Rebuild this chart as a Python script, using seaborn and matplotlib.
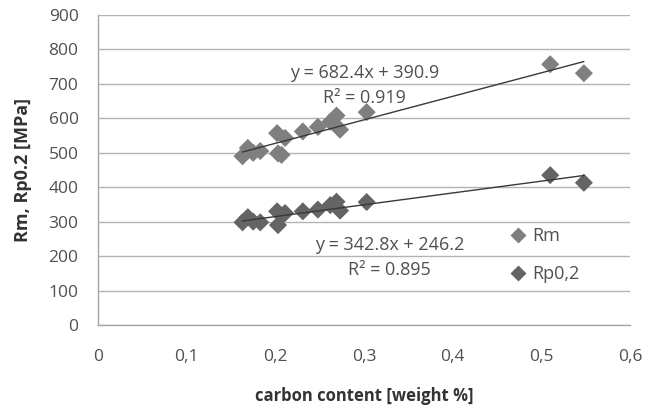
import numpy as np
import pandas as pd
import matplotlib
matplotlib.use("Agg")
import matplotlib.pyplot as plt
from matplotlib.ticker import FuncFormatter
import seaborn as sns

carbon = [0.163, 0.169, 0.175, 0.183, 0.202, 0.211, 0.203, 0.207,
          0.231, 0.248, 0.262, 0.269, 0.273, 0.303, 0.510, 0.548]
rm = [490, 514, 500, 505, 557, 543, 498, 494,
      562, 575, 590, 608, 567, 618, 757, 731]
rp = [298, 313, 300, 298, 330, 325, 290, 318,
      330, 335, 348, 358, 332, 357, 435, 413]
rm_fit = (682.4, 390.9, 0.919)
rp_fit = (342.8, 246.2, 0.895)
x_ticks = [0, 0.1, 0.2, 0.3, 0.4, 0.5, 0.6]
y_ticks = [0, 100, 200, 300, 400, 500, 600, 700, 800, 900]

sns.set_theme(style="white")
plt.rcParams['font.family'] = ['Open Sans', 'DejaVu Sans']

df = pd.DataFrame({
    "carbon": carbon * 2,
    "value": rm + rp,
    "series": ["Rm"] * len(rm) + ["Rp0,2"] * len(rp),
})

fig = plt.figure(figsize=(6.62, 4.12), dpi=100)
ax = fig.add_axes([98/662, 1 - 325/412, (630-98)/662, (325-15)/412])

palette = {"Rm": "#7f7f7f", "Rp0,2": "#646464"}
sns.scatterplot(data=df, x="carbon", y="value", hue="series", palette=palette,
                marker="D", s=85, edgecolor="none", ax=ax, zorder=3)

xs = np.array([min(carbon), max(carbon)])
for slope, icpt, r2 in (rm_fit, rp_fit):
    ax.plot(xs, slope * xs + icpt, color="#383838", lw=1.0, zorder=4)

tc = "#505050"
fs_ann = 13
ax.text(0.301, 732, f"y = {rm_fit[0]}x + {rm_fit[1]}", ha="center", va="center", fontsize=fs_ann, color=tc)
ax.text(0.301, 659, f"R² = {rm_fit[2]}", ha="center", va="center", fontsize=fs_ann, color=tc)
ax.text(0.329, 232, f"y = {rp_fit[0]}x + {rp_fit[1]}", ha="center", va="center", fontsize=fs_ann, color=tc)
ax.text(0.329, 160, f"R² = {rp_fit[2]}", ha="center", va="center", fontsize=fs_ann, color=tc)

ax.set_xlim(0, 0.6)
ax.set_ylim(0, 900)
ax.set_xticks(x_ticks)
ax.set_yticks(y_ticks)
ax.xaxis.set_major_formatter(FuncFormatter(lambda v, p: ("%g" % round(v, 2)).replace(".", ",")))
ax.grid(axis="y", color="#b3b3b3", lw=1.0)
ax.set_axisbelow(True)
for s in ["top", "right"]:
    ax.spines[s].set_visible(False)
for s in ["left", "bottom"]:
    ax.spines[s].set_color("#a6a6a6")
    ax.spines[s].set_linewidth(1.0)
ax.tick_params(axis="x", length=0, pad=17, labelsize=12.5, labelcolor=tc)
ax.tick_params(axis="y", length=0, pad=14, labelsize=12.5, labelcolor=tc)

ax.set_xlabel("carbon content [weight %]", fontsize=12, fontweight="bold", color="#333333", labelpad=16)
ax.set_ylabel("Rm, Rp0.2 [MPa]", fontsize=13, fontweight="bold", color="#333333", labelpad=12)

leg = ax.legend(loc="center left", bbox_to_anchor=(493/662, 1 - 255/412), bbox_transform=fig.transFigure,
                frameon=False, handletextpad=0.3, handlelength=1.0, labelspacing=1.1,
                fontsize=13, markerscale=0.85)
for t in leg.get_texts():
    t.set_color(tc)

fig.savefig("out.png", dpi=100)
